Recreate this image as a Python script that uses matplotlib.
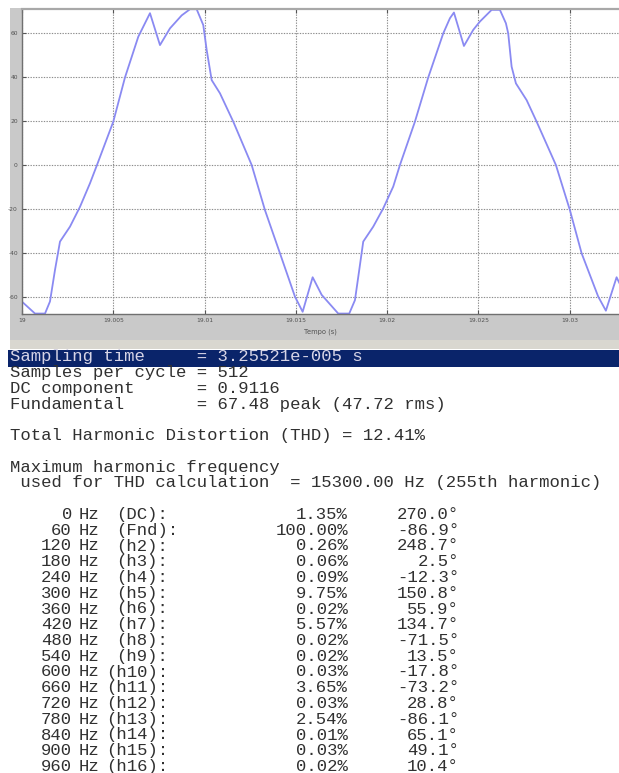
import matplotlib
matplotlib.use("Agg")
import matplotlib.pyplot as plt
from matplotlib.patches import Rectangle

# ---------------------------------------------------------------- data
# current waveform, time in seconds
time_s = [
    19.000000, 19.000712, 19.001260, 19.001533, 19.001807, 19.002081,
    19.002629, 19.003176, 19.003724, 19.004107, 19.005000, 19.005641,
    19.006369, 19.007010, 19.007558, 19.008105, 19.008746, 19.009201,
    19.009567, 19.009929, 19.010115, 19.010389, 19.010843, 19.011572,
    19.012580, 19.013308, 19.014129, 19.014951, 19.015372, 19.015920,
    19.016413, 19.017322, 19.017924, 19.018237, 19.018472, 19.018691,
    19.019239, 19.019786, 19.020334, 19.020701, 19.021522, 19.022251,
    19.023072, 19.023439, 19.023658, 19.024206, 19.024715, 19.025082,
    19.025723, 19.026177, 19.026506, 19.026632, 19.026818, 19.027054,
    19.027640, 19.028188, 19.029244, 19.030011, 19.030652, 19.031561,
    19.031982, 19.032568, 19.032800,
]
current = [
    -62.1, -67.5, -67.5, -62.0, -47.7, -34.8,
    -28.0, -19.0, -8.3, 0.0, 19.7, 39.8,
    58.3, 69.0, 54.5, 62.1, 68.0, 70.8,
    70.8, 63.6, 52.3, 38.6, 32.6, 19.7,
    0.0, -20.5, -40.1, -59.8, -66.7, -51.0,
    -59.0, -67.5, -67.5, -61.4, -47.7, -34.8,
    -28.0, -19.7, -9.8, 0.0, 19.7, 39.8,
    59.8, 66.7, 69.3, 54.1, 61.4, 65.2,
    70.5, 70.5, 64.4, 59.8, 44.7, 37.1,
    29.5, 19.7, 0.0, -20.5, -40.1, -59.8,
    -66.2, -51.0, -55.0,
]

x_ticks = [19.0, 19.005, 19.01, 19.015, 19.02, 19.025, 19.03]
x_tick_labels = ["19", "19.005", "19.01", "19.015", "19.02", "19.025", "19.03"]
y_ticks = [-60, -40, -20, 0, 20, 40, 60]
y_tick_labels = ["-60", "-40", "-20", "0", "20", "40", "60"]
x_label = "Tempo (s)"

# FFT summary
header_lines = [
    "Sampling time     = 3.25521e-005 s",
    "Samples per cycle = 512",
    "DC component      = 0.9116",
    "Fundamental       = 67.48 peak (47.72 rms)",
    "",
    "Total Harmonic Distortion (THD) = 12.41%",
    "",
    "Maximum harmonic frequency",
    " used for THD calculation  = 15300.00 Hz (255th harmonic)",
    "",
]

freq_hz = [0, 60, 120, 180, 240, 300, 360, 420, 480, 540, 600, 660, 720, 780, 840, 900, 960]
harm_labels = ["(DC)", "(Fnd)", "(h2)", "(h3)", "(h4)", "(h5)", "(h6)", "(h7)", "(h8)",
               "(h9)", "(h10)", "(h11)", "(h12)", "(h13)", "(h14)", "(h15)", "(h16)"]
magnitude_pct = [1.35, 100.00, 0.26, 0.06, 0.09, 9.75, 0.02, 5.57, 0.02,
                 0.02, 0.03, 3.65, 0.03, 2.54, 0.01, 0.03, 0.02]
phase_deg = [270.0, -86.9, 248.7, 2.5, -12.3, 150.8, 55.9, 134.7, -71.5,
             13.5, -17.8, -73.2, 28.8, -86.1, 65.1, 49.1, 10.4]

# ---------------------------------------------------------------- layout
W, H = 619, 773
fig = plt.figure(figsize=(W / 100, H / 100), dpi=100)
fig.patch.set_facecolor("white")


def fx(x):
    return x / W


def fy(y):
    return 1 - y / H


def px_rect(x0, y0, x1, y1, color):
    fig.patches.append(Rectangle((fx(x0), fy(y1)), fx(x1) - fx(x0), fy(y0) - fy(y1),
                                 transform=fig.transFigure, facecolor=color,
                                 edgecolor="none", zorder=-5))


# scope window frame
px_rect(10, 8, 22, 348, "#c9c9c9")
px_rect(10, 314, W, 340, "#c9c9c9")
px_rect(10, 340, W, 349, "#d9d7d0")

ax = fig.add_axes([fx(22), fy(314), fx(W) - fx(22), fy(9) - fy(314)])
ax.set_zorder(1)
ax.set_facecolor("white")
ax.plot(time_s, current, color="#8a8af2", linewidth=1.3, solid_joinstyle="round")
ax.set_xlim(19.0, 19.0327)
ax.set_ylim(-67.7, 70.9)
ax.set_xticks(x_ticks)
ax.set_xticklabels(x_tick_labels)
ax.set_yticks(y_ticks)
ax.set_yticklabels(y_tick_labels)
ax.grid(True, color="#8c8c8c", linestyle=(0, (1.2, 1.2)), linewidth=0.8)
ax.tick_params(direction="in", length=3, width=0.8, color="#555555",
               labelsize=4.3, labelcolor="#505050", pad=3, top=True, right=False)
ax.set_xlabel(x_label, fontsize=4.8, color="#505050", labelpad=3.5)
for side in ("left", "bottom"):
    ax.spines[side].set_color("#707070")
    ax.spines[side].set_linewidth(1.0)
ax.spines["top"].set_color("#a8a8a8")
ax.spines["top"].set_linewidth(1.6)
ax.spines["right"].set_visible(False)

# ---------------------------------------------------------------- text report
mono = "Liberation Mono"
fsize = 12.4
text_color = "#303030"
x0 = 10
y_first = 357
step = 15.75

# highlighted first line
px_rect(8, 349.5, W, 366.5, "#0a246a")

for i, s in enumerate(header_lines):
    if not s:
        continue
    color = "#d6d4e6" if i == 0 else text_color
    fig.text(fx(x0), fy(y_first + i * step), s, family=mono, fontsize=fsize,
             color=color, ha="left", va="center")

# harmonic table, one text per column
row0 = len(header_lines)
for k, (f, lbl, p, ph) in enumerate(zip(freq_hz, harm_labels, magnitude_pct, phase_deg)):
    y = fy(y_first + (row0 + k) * step)
    kw = dict(family=mono, fontsize=fsize, color=text_color, va="center")
    fig.text(fx(72), y, f"{f:d}", ha="right", **kw)
    fig.text(fx(79), y, "Hz", ha="left", **kw)
    lx = 106 if (len(lbl) == 5 and lbl[1] == "h") else 116
    fig.text(fx(lx), y, lbl + ":", ha="left", **kw)
    fig.text(fx(348), y, f"{p:.2f}%", ha="right", **kw)
    fig.text(fx(459), y, f"{ph:.1f}\u00b0", ha="right", **kw)

fig.savefig("out.png", dpi=100, facecolor="white")
